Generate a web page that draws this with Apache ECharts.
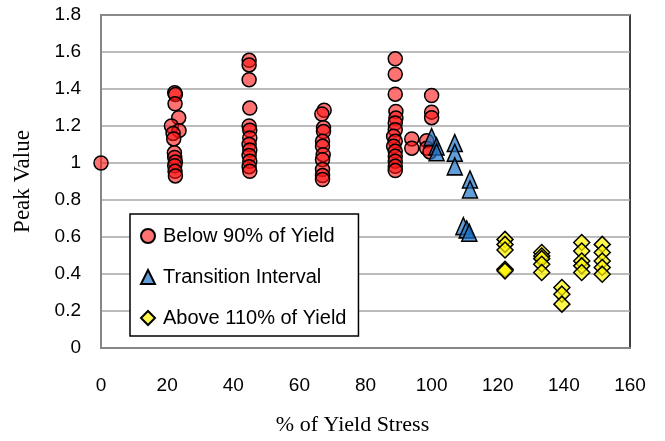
<!DOCTYPE html>
<html>
<head>
<meta charset="utf-8">
<script src="https://cdn.jsdelivr.net/npm/echarts@6/dist/echarts.min.js"></script>
<style>
html,body{margin:0;padding:0;background:#fff;}
#chart{width:665px;height:441px;}
</style>
</head>
<body>
<div id="chart"></div>
<script>
// Series 1: Below 90% of Yield
var belowX = [0,
  22.3,22.5,22.4,23.5,21.3,23.6,21.8,22.0,22.2,22.3,22.5,22.3,22.4,22.5,
  44.8,44.8,44.8,45.0,44.8,45.0,45.0,44.8,45.0,44.8,45.0,44.8,45.0,
  67.5,66.8,67.3,67.3,67.0,67.0,67.2,67.0,67.0,67.0,67.0,
  89.0,89.0,89.0,89.2,89.2,89.0,89.0,88.5,89.0,88.5,89.0,89.0,89.0,89.0,89.0,
  94.0,94.0,
  100.0,100.0,100.0,98.5,98.5,99.5];
var belowY = [1.0,
  1.38,1.37,1.32,1.245,1.20,1.175,1.16,1.13,1.055,1.03,1.005,0.985,0.955,0.93,
  1.555,1.53,1.45,1.297,1.20,1.177,1.135,1.10,1.07,1.04,1.01,0.98,0.955,
  1.285,1.265,1.19,1.17,1.117,1.09,1.045,1.018,0.965,0.932,0.911,
  1.563,1.48,1.372,1.279,1.243,1.216,1.18,1.144,1.117,1.09,1.063,1.036,1.01,0.982,0.959,
  1.13,1.08,
  1.365,1.275,1.245,1.12,1.08,1.06];
// Series 2: Transition Interval
var transX = [100.0,101.5,101.5,107.0,107.0,107.0,111.6,111.6,109.6,110.6,111.4];
var transY = [1.14,1.09,1.058,1.108,1.055,0.982,0.911,0.857,0.659,0.641,0.623];
// Series 3: Above 110% of Yield
var aboveX = [122.2,122.2,122.2,122.2,122.2,
  133.3,133.3,133.3,133.3,133.3,
  139.4,139.4,139.4,
  145.4,145.4,145.4,145.4,145.4,
  151.6,151.6,151.6,151.6,151.6];
var aboveY = [0.587,0.56,0.53,0.426,0.417,
  0.516,0.497,0.483,0.453,0.408,
  0.327,0.291,0.237,
  0.57,0.524,0.47,0.444,0.408,
  0.56,0.516,0.47,0.435,0.399];
var seriesNames = ['Below 90% of Yield','Transition Interval','Above 110% of Yield'];
var xTitle = '% of Yield Stress';
var yTitle = 'Peak Value';

function pairs(xs, ys){ return xs.map(function(x,i){ return [x, ys[i]]; }); }

var chart = echarts.init(document.getElementById('chart'), null, {renderer:'canvas'});
var labelFont = {fontFamily:'Liberation Sans', fontSize:19, color:'#000'};
chart.setOption({
  animation:false,
  backgroundColor:'#fff',
  grid:{left:101, right:35, top:15, bottom:92, show:true, borderColor:'#000', borderWidth:1.5, backgroundColor:'transparent'},
  xAxis:{type:'value', min:0, max:160, interval:20,
    name:xTitle, nameLocation:'middle', nameGap:66,
    nameTextStyle:{fontFamily:'Liberation Serif', fontSize:22, color:'#000', padding:[0,26,0,0]},
    axisLine:{show:true, onZero:false, lineStyle:{color:'#868686', width:2}},
    axisTick:{show:false},
    splitLine:{show:false},
    axisLabel:Object.assign({margin:28}, labelFont)},
  yAxis:{type:'value', min:0, max:1.8, interval:0.2,
    name:yTitle, nameLocation:'middle', nameGap:67, nameRotate:90,
    nameTextStyle:{fontFamily:'Liberation Serif', fontSize:23, color:'#000'},
    axisLine:{show:true, lineStyle:{color:'#868686', width:2}},
    axisTick:{show:false},
    splitLine:{show:true, lineStyle:{color:'#a6a6a6', width:1.5}},
    axisLabel:Object.assign({margin:20}, labelFont)},
  legend:{orient:'vertical', left:130, top:214,
    padding:[12,12,8,10], itemGap:21, itemWidth:14, itemHeight:14,
    backgroundColor:'#fff', borderColor:'#000', borderWidth:1.5,
    textStyle:{fontFamily:'Liberation Sans', fontSize:20, color:'#000', padding:[0,0,0,3]},
    data:seriesNames},
  series:[
    {name:seriesNames[0], type:'scatter', symbol:'circle', symbolSize:14,
     itemStyle:{color:'rgba(255,20,20,0.6)', borderColor:'#000', borderWidth:1.5, opacity:1},
     data:pairs(belowX, belowY)},
    {name:seriesNames[1], type:'scatter', symbol:'triangle', symbolSize:[15,17],
     itemStyle:{color:'rgba(30,115,200,0.7)', borderColor:'#000', borderWidth:1.5, opacity:1},
     data:pairs(transX, transY)},
    {name:seriesNames[2], type:'scatter', symbol:'diamond', symbolSize:[16,16],
     itemStyle:{color:'rgba(255,245,0,0.7)', borderColor:'#000', borderWidth:1.5, opacity:1},
     data:pairs(aboveX, aboveY)}
  ]
});
</script>
</body>
</html>
